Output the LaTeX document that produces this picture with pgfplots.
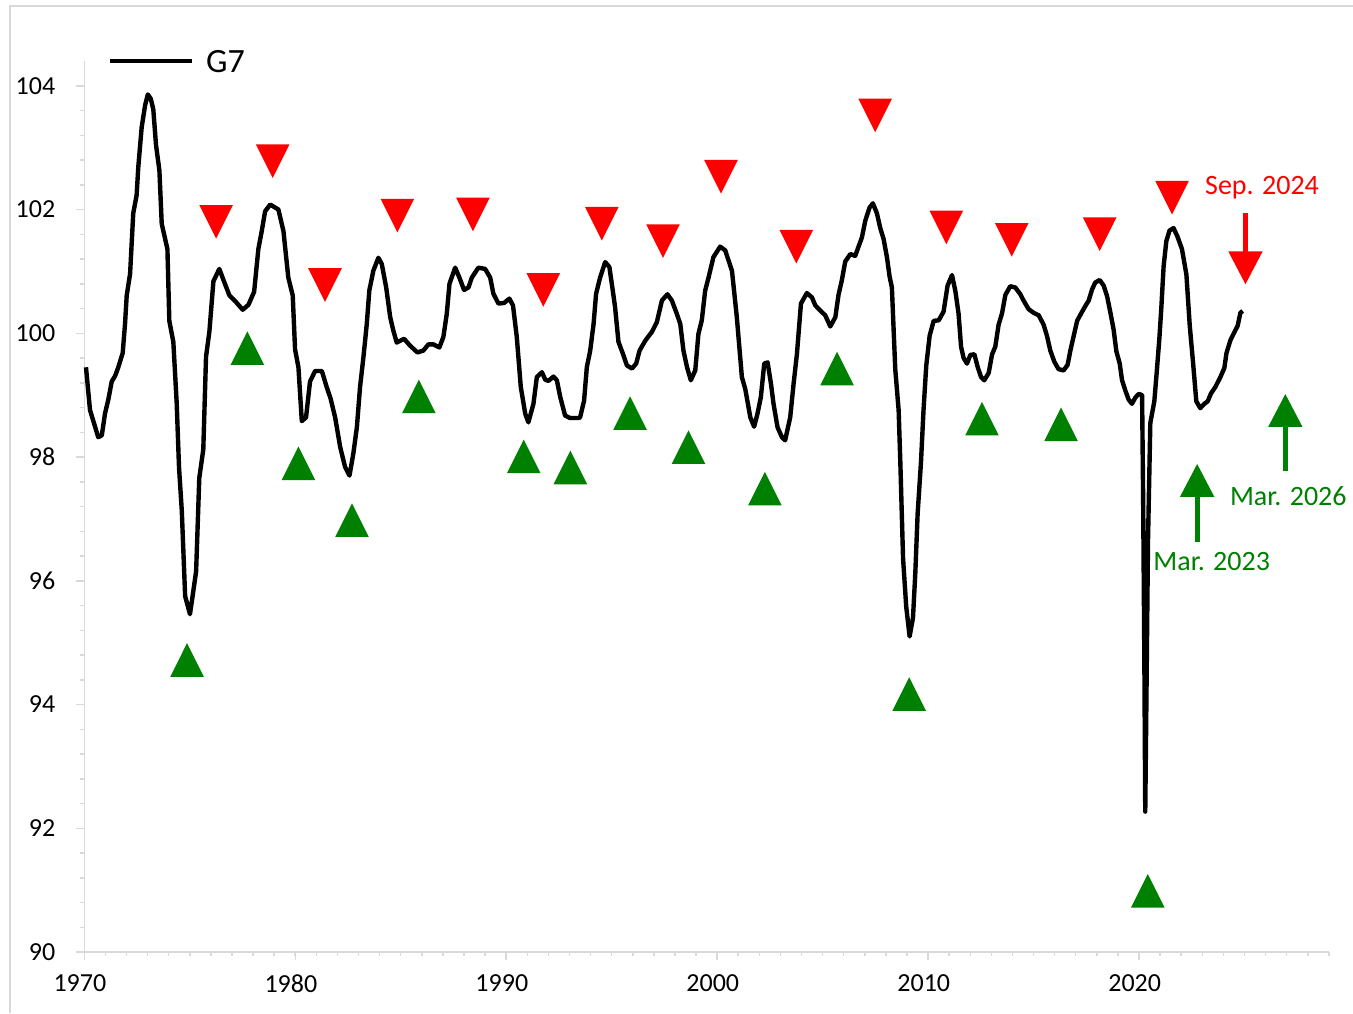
\documentclass[border=0pt]{standalone}
\usepackage{fontspec}
\setmainfont{Carlito}
\usepackage{pgfplots}
\pgfplotsset{compat=1.18}
\usetikzlibrary{arrows.meta}

\definecolor{axgray}{RGB}{217,217,217}
\definecolor{upgreen}{RGB}{0,128,0}
\definecolor{downred}{RGB}{255,0,0}

% triangles whose box centre sits on the data point
\pgfdeclareplotmark{tridown}{%
  \pgfpathmoveto{\pgfqpoint{-\pgfplotmarksize}{\pgfplotmarksize}}%
  \pgfpathlineto{\pgfqpoint{\pgfplotmarksize}{\pgfplotmarksize}}%
  \pgfpathlineto{\pgfqpoint{0pt}{-\pgfplotmarksize}}%
  \pgfpathclose\pgfusepathqfill}
\pgfdeclareplotmark{triup}{%
  \pgfpathmoveto{\pgfqpoint{-\pgfplotmarksize}{-\pgfplotmarksize}}%
  \pgfpathlineto{\pgfqpoint{\pgfplotmarksize}{-\pgfplotmarksize}}%
  \pgfpathlineto{\pgfqpoint{0pt}{\pgfplotmarksize}}%
  \pgfpathclose\pgfusepathqfill}

\begin{document}
\begin{tikzpicture}
\useasboundingbox (0pt,0pt) rectangle (676.5pt,-506.5pt);
\draw[axgray, line width=0.6pt] (5pt,-506.5pt) -- (5pt,-3pt) -- (676.5pt,-3pt);
\begin{axis}[
    at={(42.15pt,-476pt)}, anchor=south west,
    scale only axis, width=622.35pt, height=445.5pt,
    xmin=1970, xmax=2029, ymin=90, ymax=104.4,
    clip=false,
    axis lines*=left,
    axis line style={axgray, line width=0.75pt},
    xtick={1970,1980,1990,2000,2010,2020},
    xticklabels={1970,1980,1990,2000,2010,2020},
    minor xtick={1970,...,2029},
    ytick={90,92,94,96,98,100,102,104},
    minor y tick num=4,
    tick align=outside,
    major tick length=4pt, minor tick length=2pt,
    tick style={axgray, line width=0.75pt},
    ticklabel style={font=\fontsize{13}{13}\selectfont, text=black},
    /pgf/number format/assume math mode=true,
    xticklabel style={yshift=-4pt, xshift=-2.2pt},
    yticklabel style={xshift=-7pt},
    legend style={at={(0.0185,1.0)}, anchor=west, draw=none, fill=none,
        inner sep=0pt, font=\fontsize{17}{17}\selectfont},
    legend image code/.code={\draw[#1] (0pt,0pt) -- (41pt,0pt);},
]
\addplot[black, line width=2.2pt, line join=round] coordinates {
(1970.08,99.45)(1970.27,98.76)(1970.43,98.58)(1970.66,98.32)(1970.83,98.35)
(1970.98,98.70)(1971.14,98.93)(1971.30,99.22)(1971.46,99.31)(1971.61,99.45)
(1971.82,99.68)(1971.93,100.15)(1972.01,100.61)(1972.17,100.96)(1972.25,101.48)
(1972.32,101.94)(1972.48,102.23)(1972.56,102.69)(1972.72,103.33)(1972.88,103.68)
(1973.01,103.86)(1973.15,103.79)(1973.27,103.62)(1973.40,103.04)(1973.56,102.63)
(1973.67,101.77)(1973.94,101.36)(1974.03,100.20)(1974.22,99.86)(1974.38,98.87)
(1974.49,97.83)(1974.62,97.14)(1974.78,95.75)(1975.01,95.46)(1975.30,96.15)
(1975.45,97.66)(1975.64,98.12)(1975.77,99.62)(1975.93,100.03)(1976.12,100.84)
(1976.40,101.04)(1976.62,100.84)(1976.88,100.61)(1977.15,100.52)(1977.51,100.38)
(1977.78,100.46)(1978.05,100.67)(1978.25,101.36)(1978.41,101.65)(1978.57,101.97)
(1978.81,102.08)(1979.20,102.00)(1979.44,101.65)(1979.67,100.90)(1979.88,100.61)
(1979.99,99.74)(1980.15,99.45)(1980.31,98.58)(1980.51,98.64)(1980.70,99.22)
(1980.94,99.39)(1981.26,99.39)(1981.49,99.13)(1981.67,98.95)(1981.89,98.64)
(1982.13,98.16)(1982.36,97.84)(1982.57,97.70)(1982.75,98.05)(1982.92,98.48)
(1983.07,99.13)(1983.23,99.61)(1983.39,100.15)(1983.51,100.69)(1983.70,101.01)
(1983.94,101.22)(1984.10,101.12)(1984.31,100.74)(1984.50,100.26)(1984.65,100.04)
(1984.81,99.85)(1985.16,99.91)(1985.44,99.80)(1985.79,99.69)(1986.07,99.72)
(1986.31,99.82)(1986.55,99.82)(1986.83,99.77)(1987.02,99.94)(1987.18,100.31)
(1987.31,100.80)(1987.58,101.06)(1987.78,100.90)(1988.00,100.70)(1988.21,100.74)
(1988.37,100.90)(1988.68,101.06)(1989.00,101.04)(1989.24,100.90)(1989.39,100.64)
(1989.63,100.48)(1989.90,100.49)(1990.15,100.56)(1990.32,100.45)(1990.50,99.94)
(1990.69,99.13)(1990.90,98.70)(1991.05,98.56)(1991.29,98.86)(1991.45,99.29)
(1991.69,99.37)(1991.85,99.25)(1992.00,99.23)(1992.24,99.30)(1992.40,99.24)
(1992.56,98.97)(1992.79,98.67)(1993.03,98.63)(1993.42,98.63)(1993.50,98.64)
(1993.69,98.91)(1993.82,99.45)(1993.98,99.72)(1994.14,100.15)(1994.26,100.64)
(1994.45,100.90)(1994.69,101.15)(1994.89,101.07)(1995.05,100.69)(1995.16,100.42)
(1995.32,99.86)(1995.53,99.67)(1995.72,99.48)(1995.96,99.43)(1996.16,99.51)
(1996.32,99.72)(1996.59,99.88)(1996.90,100.02)(1997.14,100.18)(1997.38,100.53)
(1997.64,100.63)(1997.85,100.53)(1998.09,100.31)(1998.25,100.15)(1998.40,99.72)
(1998.57,99.45)(1998.75,99.24)(1998.96,99.40)(1999.11,99.99)(1999.27,100.21)
(1999.43,100.69)(1999.59,100.90)(1999.82,101.23)(2000.14,101.40)(2000.38,101.34)
(2000.70,101.01)(2000.93,100.26)(2001.17,99.29)(2001.33,99.10)(2001.57,98.64)
(2001.75,98.49)(2001.91,98.70)(2002.07,98.97)(2002.23,99.51)(2002.39,99.53)
(2002.55,99.18)(2002.67,98.86)(2002.86,98.48)(2003.07,98.32)(2003.22,98.27)
(2003.46,98.64)(2003.62,99.18)(2003.78,99.67)(2003.97,100.48)(2004.25,100.65)
(2004.49,100.58)(2004.65,100.45)(2004.88,100.37)(2005.12,100.29)(2005.36,100.11)
(2005.60,100.26)(2005.75,100.62)(2005.91,100.86)(2006.07,101.16)(2006.31,101.28)
(2006.54,101.25)(2006.70,101.40)(2006.86,101.55)(2007.02,101.82)(2007.22,102.03)
(2007.38,102.10)(2007.57,101.94)(2007.73,101.70)(2007.89,101.52)(2008.05,101.22)
(2008.17,100.92)(2008.28,100.74)(2008.44,99.42)(2008.60,98.76)(2008.68,97.92)
(2008.81,96.36)(2008.96,95.58)(2009.12,95.10)(2009.28,95.40)(2009.39,96.12)
(2009.50,97.08)(2009.66,97.92)(2009.78,98.76)(2009.91,99.48)(2010.07,99.96)
(2010.26,100.20)(2010.50,100.21)(2010.73,100.35)(2010.92,100.77)(2011.13,100.94)
(2011.29,100.68)(2011.44,100.32)(2011.56,99.78)(2011.68,99.60)(2011.84,99.51)
(2012.00,99.65)(2012.19,99.66)(2012.35,99.45)(2012.51,99.29)(2012.66,99.24)
(2012.87,99.36)(2013.03,99.66)(2013.18,99.78)(2013.34,100.14)(2013.50,100.32)
(2013.66,100.62)(2013.89,100.76)(2014.13,100.74)(2014.37,100.63)(2014.52,100.53)
(2014.76,100.39)(2015.00,100.33)(2015.24,100.29)(2015.47,100.14)(2015.63,99.96)
(2015.79,99.72)(2015.98,99.54)(2016.18,99.42)(2016.42,99.40)(2016.61,99.49)
(2016.74,99.72)(2016.90,99.96)(2017.06,100.20)(2017.25,100.32)(2017.45,100.44)
(2017.61,100.53)(2017.77,100.71)(2017.92,100.82)(2018.13,100.86)(2018.32,100.77)
(2018.48,100.60)(2018.64,100.33)(2018.79,100.06)(2018.92,99.71)(2019.08,99.51)
(2019.19,99.24)(2019.35,99.07)(2019.50,98.93)(2019.66,98.86)(2019.82,98.96)
(2019.98,99.02)(2020.14,99.00)(2020.19,97.33)(2020.25,94.59)(2020.29,92.27)
(2020.34,93.91)(2020.42,96.64)(2020.53,98.55)(2020.72,98.90)(2020.85,99.44)
(2020.96,99.92)(2021.05,100.40)(2021.16,101.08)(2021.29,101.49)(2021.44,101.66)
(2021.63,101.70)(2021.82,101.56)(2022.03,101.36)(2022.24,100.95)(2022.40,100.12)
(2022.56,99.51)(2022.71,98.90)(2022.90,98.79)(2023.09,98.86)(2023.25,98.90)
(2023.41,99.03)(2023.61,99.13)(2023.85,99.29)(2024.04,99.44)(2024.14,99.68)
(2024.33,99.89)(2024.52,100.02)(2024.67,100.12)(2024.80,100.33)(2024.91,100.36)
};
\addlegendentry{\hspace*{4pt}\raisebox{-2pt}{G7}}
% peaks
\addplot[only marks, mark=tridown, mark size=8.4pt, color=downred, forget plot] coordinates {
(1976.25,101.80)(1978.93,102.78)(1981.41,100.78)(1984.84,101.90)(1988.42,101.92)
(1991.76,100.70)(1994.53,101.77)(1997.43,101.49)(2000.18,102.53)(2003.75,101.40)
(2007.49,103.52)(2010.86,101.71)(2013.96,101.51)(2018.13,101.60)(2021.56,102.19)
};
% troughs
\addplot[only marks, mark=triup, mark size=8.4pt, color=upgreen, forget plot] coordinates {
(1974.87,94.72)(1977.73,99.76)(1980.15,97.90)(1982.69,96.98)(1985.86,98.98)
(1990.83,98.01)(1993.04,97.83)(1995.87,98.71)(1998.64,98.16)(2002.26,97.49)
(2005.68,99.43)(2009.10,94.17)(2012.55,98.62)(2016.30,98.53)(2020.41,90.99)
};
% latest calls
\draw[downred, line width=2.4pt, -{Triangle[width=16.5pt,length=16.5pt]}]
    (axis cs:2025.04,101.94) -- (axis cs:2025.04,100.79);
\draw[upgreen, line width=2.4pt, -{Triangle[width=16.5pt,length=16.5pt]}]
    (axis cs:2022.75,96.62) -- (axis cs:2022.75,97.89);
\draw[upgreen, line width=2.4pt, -{Triangle[width=16.5pt,length=16.5pt]}]
    (axis cs:2026.93,97.77) -- (axis cs:2026.93,99.02);
\node[anchor=base west, inner sep=0pt, text=downred, font=\fontsize{14}{14}\selectfont]
    at (axis cs:2023.11,102.25) {Sep. 2024};
\node[anchor=base west, inner sep=0pt, text=upgreen, font=\fontsize{14}{14}\selectfont]
    at (axis cs:2024.29,97.22) {Mar. 2026};
\node[anchor=base west, inner sep=0pt, text=upgreen, font=\fontsize{14}{14}\selectfont]
    at (axis cs:2020.66,96.17) {Mar. 2023};
\end{axis}
\end{tikzpicture}
\end{document}
